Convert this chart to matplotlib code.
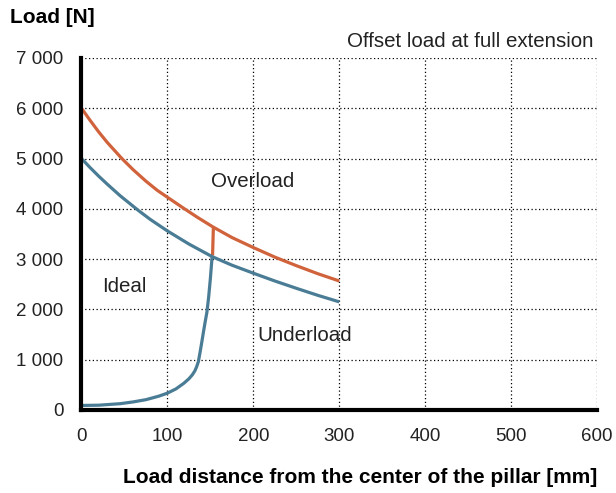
import matplotlib
matplotlib.use('Agg')
import matplotlib.pyplot as plt
from matplotlib.ticker import FuncFormatter, MultipleLocator

# upper limit, overload boundary (orange)
over_x = [0, 10, 20, 30, 47, 60, 75, 88, 100, 119, 135, 153, 175, 200, 225, 250, 275, 300]
over_y = [6000, 5760, 5530, 5320, 5000, 4780, 4550, 4370, 4230, 4010, 3830, 3640, 3430, 3230, 3040, 2870, 2710, 2565]

# ideal / underload boundary, upper part (blue)
ideal_x = [0, 10, 20, 30, 45, 66, 80, 100, 125, 152, 175, 200, 225, 250, 275, 300]
ideal_y = [5000, 4820, 4650, 4490, 4260, 3970, 3790, 3560, 3300, 3050, 2880, 2720, 2565, 2420, 2280, 2150]

# lower blue curve
low_x = [0, 20, 45, 60, 75, 90, 100, 110, 119, 125, 129, 132, 134, 136, 138, 140, 142, 144, 146, 148, 150, 152]
low_y = [90, 95, 125, 160, 205, 275, 335, 420, 530, 620, 700, 780, 860, 960, 1150, 1350, 1560, 1760, 1950, 2250, 2620, 3050]

# short orange connector
link_x = [152.5, 153.5]
link_y = [3070, 3640]

ORANGE = "#D0633B"
BLUE = "#4A7D95"
TEXT = "#222222"

plt.rcParams['font.family'] = ['Liberation Sans', 'DejaVu Sans']

fig = plt.figure(figsize=(6.16, 4.93), dpi=100)
ax = fig.add_axes([0.1323, 0.1684, 0.8370, 0.7140])

for xs, ys, c in [(over_x, over_y, ORANGE), (link_x, link_y, ORANGE),
                  (ideal_x, ideal_y, BLUE), (low_x, low_y, BLUE)]:
    ax.plot(xs, ys, color=c, lw=2.3, solid_capstyle='butt', solid_joinstyle='round')

ax.set_xlim(0, 600)
ax.set_ylim(0, 7000)
ax.xaxis.set_major_locator(MultipleLocator(100))
ax.yaxis.set_major_locator(MultipleLocator(1000))
ax.yaxis.set_major_formatter(FuncFormatter(lambda v, p: "{:,}".format(int(v)).replace(",", " ")))
ax.grid(True, color='black', linestyle=(0, (1, 2)), lw=0.9)
ax.set_axisbelow(True)
ax.tick_params(length=0, labelsize=13.5, labelcolor=TEXT)
ax.tick_params(axis='y', pad=13)
ax.tick_params(axis='x', pad=13)

for s in ['top', 'right']:
    ax.spines[s].set_visible(False)
for s in ['left', 'bottom']:
    ax.spines[s].set_linewidth(3)
    ax.spines[s].set_color('black')

ax.text(199, 4550, "Overload", fontsize=14.8, color=TEXT, ha='center', va='center')
ax.text(50, 2450, "Ideal", fontsize=14.8, color=TEXT, ha='center', va='center')
ax.text(260, 1480, "Underload", fontsize=14.8, color=TEXT, ha='center', va='center')

fig.text(0.964, 0.915, "Offset load at full extension", fontsize=14.8, color=TEXT,
         ha='right', va='center')
fig.text(0.016, 0.964, "Load [N]", fontsize=15, fontweight='bold', ha='left', va='center')
fig.text(0.969, 0.032, "Load distance from the center of the pillar [mm]", fontsize=15,
         fontweight='bold', ha='right', va='center')

plt.savefig('out.png', dpi=100)
